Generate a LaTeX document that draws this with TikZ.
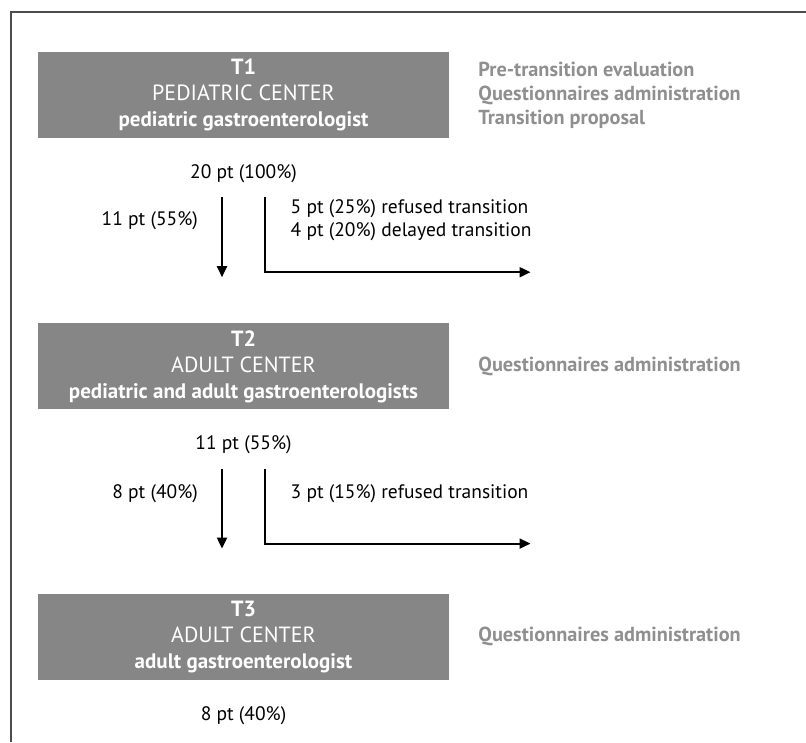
\documentclass[tikz,border=0pt]{standalone}
\usepackage{fontspec}
\setmainfont{PT Sans}
\usetikzlibrary{positioning,arrows.meta}

\definecolor{stagegray}{HTML}{868686}
\definecolor{notegray}{HTML}{8F8F8F}

\newcommand{\stagetext}[3]{{\bfseries #1}\\#2\\{\fontsize{21}{25}\selectfont\bfseries #3}}

\begin{document}
\begin{tikzpicture}[x=1pt, y=1pt, node distance=30pt]
    % Define styles
    \tikzstyle{stage}=[rectangle, fill=stagegray, text=white, minimum width=411pt, minimum height=86pt, align=center, inner sep=0pt, font=\fontsize{22}{26}\selectfont]
    \tikzstyle{note}=[text=notegray, font=\fontsize{20.3}{24}\selectfont\bfseries, align=left, inner sep=0pt]
    \tikzstyle{count}=[font=\fontsize{19.5}{23}\selectfont, align=left, inner sep=0pt]
    \tikzstyle{arrow}=[-{Triangle[length=11pt,width=10pt]}, line width=2pt]

    \useasboundingbox (0,0) rectangle (806,-742);

    % Frame
    \draw[line width=1.5pt, black!70] (11,-742) -- (11,-12) -- (806,-12);

    % Stages
    \node[stage] (t1) at (243.5,-95) {\stagetext{T1}{PEDIATRIC CENTER}{pediatric gastroenterologist}};
    \node[stage] (t2) [below=185pt of t1] {\stagetext{T2}{ADULT CENTER}{pediatric and adult gastroenterologists}};
    \node[stage] (t3) [below=184pt of t2] {\stagetext{T3}{ADULT CENTER}{adult gastroenterologist}};

    % Activities
    \node[note] (a1) [right=29pt of t1] {Pre-transition evaluation\\Questionnaires administration\\Transition proposal};
    \node[note] (a2) [right=29pt of t2] {Questionnaires administration};
    \node[note] (a3) [right=29pt of t3] {Questionnaires administration};

    % Patient counts
    \node[count] (n1) [below=26pt of t1] {20 pt (100\%)};
    \node[count] (n2) [below=26pt of t2] {11 pt (55\%)};
    \node[count] (n3) [below=26pt of t3] {8 pt (40\%)};

    % Flow T1 -> T2
    \coordinate (s1) at ([xshift=-21.5pt,yshift=-59pt]t1.south);
    \coordinate (e1) at ([xshift=-21.5pt,yshift=-139pt]t1.south);
    \coordinate (r1) at ([xshift=21pt,yshift=-59pt]t1.south);
    \coordinate (q1) at ([xshift=287pt,yshift=-134pt]t1.south);
    \draw[arrow] (s1) -- (e1);
    \draw[arrow] (r1) |- (q1);
    \node[count, anchor=east] (k1) at ([xshift=-24pt,yshift=-23pt]s1) {11 pt (55\%)};
    \node[count, anchor=west] (x1) at ([xshift=26pt,yshift=-22.5pt]r1) {5 pt (25\%) refused transition\\4 pt (20\%) delayed transition};

    % Flow T2 -> T3
    \coordinate (s2) at ([xshift=-21.5pt,yshift=-59pt]t2.south);
    \coordinate (e2) at ([xshift=-21.5pt,yshift=-139pt]t2.south);
    \coordinate (r2) at ([xshift=21pt,yshift=-59pt]t2.south);
    \coordinate (q2) at ([xshift=287pt,yshift=-134pt]t2.south);
    \draw[arrow] (s2) -- (e2);
    \draw[arrow] (r2) |- (q2);
    \node[count, anchor=east] (k2) at ([xshift=-24pt,yshift=-25pt]s2) {8 pt (40\%)};
    \node[count, anchor=west] (x2) at ([xshift=26pt,yshift=-25pt]r2) {3 pt (15\%) refused transition};
\end{tikzpicture}
\end{document}
